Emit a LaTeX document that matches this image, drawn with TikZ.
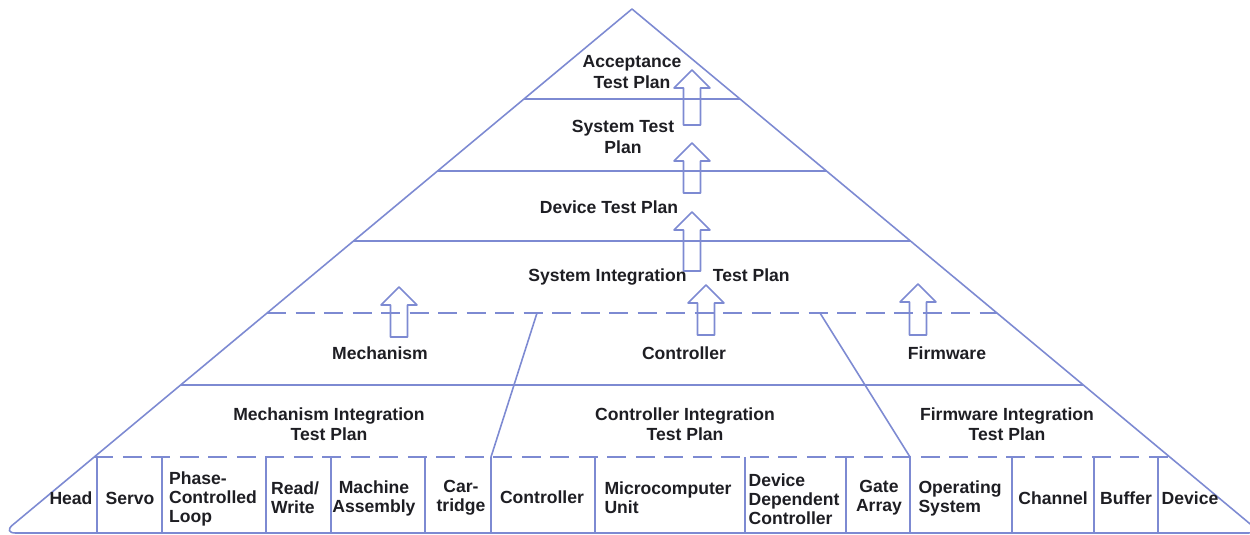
\documentclass[tikz,border=0pt]{standalone}
\usepackage{fontspec}
\setmainfont{Liberation Sans}
\usepackage{tikz}

\definecolor{planblue}{RGB}{125,138,210}
\definecolor{inkdark}{RGB}{30,30,35}

% hollow up arrow: x, tip y, bottom y
\newcommand{\hollowup}[3]{%
  \draw[planline] ({#1-8.5},#3) -- ({#1-8.5},{#2+18}) -- ({#1-18},{#2+18}) -- (#1,#2)
    -- ({#1+18},{#2+18}) -- ({#1+8.5},{#2+18}) -- ({#1+8.5},#3) -- cycle;}

\begin{document}
\begin{tikzpicture}[x=0.2mm, y=-0.2mm,
    planline/.style={draw=planblue, line width=0.9pt, line join=round},
    dashline/.style={planline, dash pattern=on 3.8mm off 1.9mm},
    lbl/.style={font=\fontsize{10}{11.5}\selectfont\bfseries, text=inkdark, align=center, inner sep=0pt},
    cell/.style={lbl, font=\fontsize{10}{10.8}\selectfont\bfseries}]
    \clip (0,0) rectangle (1250,535);

    % pyramid outline
    \draw[planline] (632,9) [rounded corners=2.5mm] -- (3,533) -- (1261,533) [sharp corners] -- cycle;

    % tiers
    \foreach \yy in {99,171,241,385}
        \draw[planline] ({632-1.2*(\yy-9)},\yy) -- ({632+1.2*(\yy-9)},\yy);
    \foreach \yy in {313,457}
        \draw[dashline] ({632-1.2*(\yy-9)},\yy) -- ({632+1.2*(\yy-9)},\yy);

    % bottom row dividers
    \foreach \xx in {97,162,266,331,425,595,745,846,1012,1094,1158}
        \draw[planline] (\xx,457) -- (\xx,533);
    \draw[planline] (537,313) -- (491,457) -- (491,533);
    \draw[planline] (820,313) -- (910,457) -- (910,533);

    % arrows
    \hollowup{692}{70}{125}
    \hollowup{692}{143}{193}
    \hollowup{692}{212}{271}
    \hollowup{399}{287}{337}
    \hollowup{706}{285}{335}
    \hollowup{918}{284}{335}

    % plan labels
    \node[lbl] (accept) at (632,72) {Acceptance\\Test Plan};
    \node[lbl] (systp) at (623,137) {System Test\\Plan};
    \node[lbl] (devtp) at (609,207) {Device Test Plan};
    \node[lbl] (sysint) at (659,277) {System Integration\hspace{1.5em}Test Plan};
    \node[lbl] (mech) at (380,353) {Mechanism};
    \node[lbl] (ctrl) at (684,353) {Controller};
    \node[lbl] (firm) at (947,353) {Firmware};
    \node[lbl] (mechint) at (329,424) {Mechanism Integration\\Test Plan};
    \node[lbl] (ctrlint) at (685,424) {Controller Integration\\Test Plan};
    \node[lbl] (firmint) at (1007,424) {Firmware Integration\\Test Plan};

    % components
    \node[cell] (head) at (71,498) {Head};
    \node[cell] (servo) at (130,498) {Servo};
    \node[cell, align=left] (pll) at (213,499) {Phase-\\Controlled\\Loop};
    \node[cell, align=left] (rw) at (295,498) {Read/\\Write};
    \node[cell] (machine) at (374,498) {Machine\\Assembly};
    \node[cell] (cart) at (461,498) {Car-\\tridge};
    \node[cell] (ctrlr) at (542,497) {Controller};
    \node[cell, align=left] (micro) at (668,498) {Microcomputer\\Unit};
    \node[cell, align=left] (ddc) at (794,499) {Device\\Dependent\\Controller};
    \node[cell] (gate) at (879,498) {Gate\\Array};
    \node[cell, align=left] (opsys) at (960,498) {Operating\\System};
    \node[cell] (chan) at (1053,498) {Channel};
    \node[cell] (buffer) at (1126,498) {Buffer};
    \node[cell] (device) at (1190,498) {Device};
\end{tikzpicture}
\end{document}
